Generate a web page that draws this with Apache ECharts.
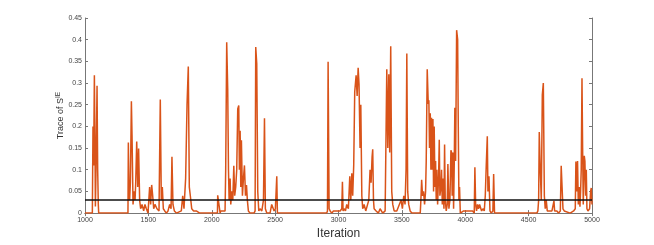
<!DOCTYPE html>
<html>
<head>
<meta charset="utf-8">
<script src="https://cdn.jsdelivr.net/npm/echarts@6/dist/echarts.min.js"></script>
<style>html,body{margin:0;padding:0;background:#fff}#c{width:654px;height:245px}</style>
</head>
<body>
<div id="c"></div>
<script>
const iterations = [1000,1058,1063,1068,1074,1079,1082,1087,1095,1100,1105,1108,
1339,1342,1347,1352,1358,1366,1371,1379,1387,1395,1400,1408,1416,1423,1431,1439,1450,1463,1473,1484,1497,
1510,1518,1526,1534,1542,1552,1568,1584,1594,1602,1610,1618,1629,1642,1655,1668,1679,1686,1694,1705,1721,
1760,1771,1781,1794,1805,1815,1823,1831,1842,1857,1878,1905,
2045,2047,2060,2066,2071,2105,2110,2118,2126,2132,2137,2145,2150,2158,2166,2174,2181,2189,2197,2205,2213,2218,2224,2229,2234,2242,2250,2258,2266,2274,2281,2289,2302,
2334,2342,2347,2355,2363,2371,2381,2395,2408,2416,2423,2434,2460,2473,2484,2492,2502,2513,2518,
2907,2913,2918,2926,2934,2947,2960,3013,3026,3031,3036,3044,3055,3065,3078,3089,3097,3105,3112,3120,3128,3139,3147,3155,3162,3170,3176,3184,3191,3202,3215,3228,3239,3249,3257,3265,3270,3276,3281,3297,3315,3328,3341,3349,
3368,3381,3389,3397,3404,3412,3420,3428,3439,3460,3494,3504,3515,3525,3533,3539,3546,3554,3565,3579,
3645,3650,3656,3663,3671,3679,3687,3692,3700,3708,3713,3718,3724,3729,3734,3740,3745,3750,3755,3761,3766,3771,3776,3782,3790,3795,3800,3808,3813,3819,3824,3832,3837,3842,3850,3858,3863,3871,3879,3887,3892,3897,3903,3908,3913,3918,3924,3932,3940,3945,3950,3955,3961,3987,
4058,4071,4076,4082,4089,4097,4105,4113,4121,4129,4139,4150,4158,4166,4174,4179,4187,4195,4205,4218,4224,4231,
4565,4573,4579,4584,4592,4600,4608,4616,4624,4631,4639,4647,4684,4697,4700,4705,4723,4736,4750,4757,4765,4771,4781,4828,
4855,4868,4873,4881,4886,4892,4899,4905,4910,4915,4921,4926,4931,4939,4944,4950,4955,4960,4968,4981,4989,4994,5000];
const traceValues = [0,0,0.2,0.11,0.318,0.15,0.015,0.1,0.294,0.1,0.02,0,
0,0.163,0.06,0.03,0.07,0.258,0.18,0.02,0.05,0.03,0.07,0.165,0.06,0.149,0.03,0.01,0.02,0.005,0.02,0.01,0,
0.06,0.02,0.065,0.04,0.01,0.02,0.01,0.005,0.262,0.03,0.06,0.01,0.005,0,0.005,0.02,0.01,0.13,0.02,0.005,0,
0.005,0.04,0.01,0.08,0.25,0.338,0.06,0.04,0.01,0.005,0.005,0,
0,0.041,0.04,0,0.005,0.005,0.1,0.394,0.285,0.1,0.03,0.08,0.02,0.05,0.03,0.109,0.04,0.06,0.1,0.24,0.248,0.1,0.19,0.06,0.168,0.04,0.08,0.11,0.04,0.065,0.03,0.005,0,
0,0.005,0.383,0.345,0.05,0.005,0.01,0.005,0.03,0.219,0.01,0,0,0.02,0.02,0.005,0.01,0.085,0,
0,0.005,0.349,0.01,0.005,0,0.005,0.005,0.01,0.072,0.005,0.01,0.005,0.02,0.01,0.085,0.03,0.092,0.04,0.11,0.28,0.318,0.27,0.335,0.297,0.15,0.25,0.04,0.01,0.02,0.005,0.005,0.03,0.1,0.07,0.13,0.147,0.03,0.01,0.005,0,0.01,0.01,0,
0.005,0.332,0.15,0.32,0.14,0.385,0.05,0.02,0.005,0.005,0.03,0.01,0.04,0.02,0.1,0.368,0.05,0.02,0.005,0,
0,0.03,0.077,0.04,0.05,0.02,0.05,0.119,0.332,0.252,0.26,0.15,0.23,0.1,0.22,0.1,0.217,0.05,0.2,0.06,0.12,0.03,0.1,0.02,0.09,0.169,0.04,0.06,0.1,0.02,0.08,0.01,0.158,0.03,0.005,0.02,0.113,0.01,0.03,0.145,0.14,0.04,0.14,0.01,0.11,0.243,0.12,0.422,0.4,0.2,0.03,0.06,0,0.005,
0.005,0,0.106,0.02,0.005,0.02,0.01,0.02,0.02,0.005,0.01,0.005,0.04,0.113,0.177,0.05,0.085,0.005,0,0.005,0.09,0,
0,0.005,0.03,0.187,0.1,0.03,0.273,0.3,0.04,0.01,0.03,0.005,0.005,0.005,0.028,0.005,0.005,0,0.005,0.109,0.11,0.01,0.005,0,
0.005,0.01,0.119,0.05,0.12,0.02,0.06,0.015,0.05,0.1,0.311,0.15,0.02,0.132,0.12,0.04,0.1,0.01,0.005,0.01,0.05,0.058,0.02];
const threshold = 0.03;
const xTicks = [1000,5000,500];
const yTicks = [0,0.45,0.05];

const chart = echarts.init(document.getElementById('c'), null, {renderer:'canvas'});
const font = 'Liberation Sans, Arial, sans-serif';
const axisLineCol = '#777';
const tickLabel = {fontSize:7, color:'#444', fontFamily:font};
chart.setOption({
  animation:false,
  backgroundColor:'#fff',
  grid:{left:85, right:62, top:18, bottom:28, containLabel:false},
  xAxis:[{
    type:'value', min:xTicks[0], max:xTicks[1], interval:xTicks[2],
    name:'Iteration', nameLocation:'middle', nameGap:11,
    nameTextStyle:{fontSize:12, color:'#333', fontFamily:font},
    axisLine:{lineStyle:{color:axisLineCol, width:1}},
    axisTick:{inside:true, length:3, lineStyle:{color:axisLineCol}},
    axisLabel:Object.assign({margin:3, formatter:v=>String(v)}, tickLabel),
    splitLine:{show:false}
  },{
    type:'value', position:'top', min:xTicks[0], max:xTicks[1], interval:xTicks[2],
    axisLine:{lineStyle:{color:axisLineCol, width:1}},
    axisTick:{inside:true, length:3, lineStyle:{color:axisLineCol}},
    axisLabel:{show:false}, splitLine:{show:false}
  }],
  yAxis:[{
    type:'value', min:yTicks[0], max:yTicks[1], interval:yTicks[2],
    name:'Trace of S{sup|IE}', nameLocation:'middle', nameGap:18, nameMoveOverlap:false,
    nameTextStyle:{fontSize:9, color:'#333', fontFamily:font,
      rich:{sup:{fontSize:6.5, verticalAlign:'top', padding:[0,0,5,0], color:'#333', fontFamily:font}}},
    axisLine:{show:true, lineStyle:{color:axisLineCol, width:1}},
    axisTick:{show:true, inside:true, length:3, lineStyle:{color:axisLineCol}},
    axisLabel:Object.assign({margin:3}, tickLabel),
    splitLine:{show:false}
  },{
    type:'value', position:'right', min:yTicks[0], max:yTicks[1], interval:yTicks[2],
    axisLine:{show:true, lineStyle:{color:axisLineCol, width:1}},
    axisTick:{show:true, inside:true, length:3, lineStyle:{color:axisLineCol}},
    axisLabel:{show:false}, splitLine:{show:false}
  }],
  series:[{
    type:'line', data:iterations.map((x,i)=>[x,traceValues[i]]),
    showSymbol:false, symbol:'none',
    lineStyle:{color:'#D95319', width:1.5}, z:2
  },{
    type:'line', data:[[xTicks[0],threshold],[xTicks[1],threshold]],
    showSymbol:false, symbol:'none',
    lineStyle:{color:'#111', width:1.5}, z:3
  }]
});
</script>
</body>
</html>
